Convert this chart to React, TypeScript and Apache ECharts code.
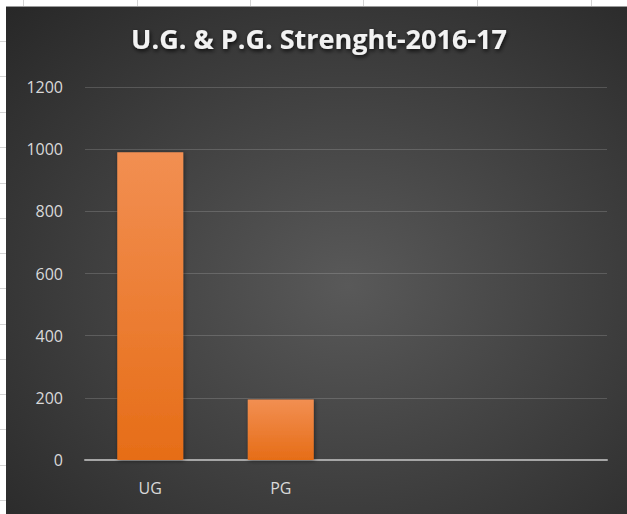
import React, { useEffect, useRef } from "react";
import * as echarts from "echarts";

const categories = ["UG", "PG", "", ""];
const strength = [990, 195, null, null];
const yTicks = { min: 0, max: 1200, interval: 200 };
const titleText = "U.G. & P.G. Strenght-2016-17";

const sheetCols = [23, 137, 250, 363, 477, 591];
const sheetRows = [41, 76, 112, 147, 183, 218, 253, 288, 324, 359, 394, 429, 465, 500];

export default function App() {
  const ref = useRef<HTMLDivElement>(null);
  useEffect(() => {
    if (!ref.current) return;
    const chart = echarts.init(ref.current, undefined, { renderer: "svg" });
    const graphic: any[] = [];
    sheetCols.forEach((x) =>
      graphic.push({ type: "line", silent: true, z: -10, shape: { x1: x + 0.5, y1: 0, x2: x + 0.5, y2: 6 }, style: { stroke: "#d4d4d4", lineWidth: 1 } })
    );
    sheetRows.forEach((y) =>
      graphic.push({ type: "line", silent: true, z: -10, shape: { x1: 0, y1: y + 0.5, x2: 6, y2: y + 0.5 }, style: { stroke: "#d4d4d4", lineWidth: 1 } })
    );
    graphic.push({
      type: "rect",
      silent: true,
      z: -10,
      shape: { x: 6, y: 6, width: 621, height: 508 },
      style: {
        fill: new echarts.graphic.RadialGradient(0.55, 0.55, 0.8, [
          { offset: 0, color: "#595959" },
          { offset: 1, color: "#262626" },
        ]),
      },
    });
    graphic.push({ type: "line", silent: true, z: -9, shape: { x1: 6, y1: 6.5, x2: 627, y2: 6.5 }, style: { stroke: "#9a9a9a", lineWidth: 1 } });

    chart.setOption({
      animation: false,
      backgroundColor: "#ffffff",
      graphic,
      title: {
        text: titleText,
        left: 314,
        textAlign: "center",
        top: 20,
        textStyle: {
          fontFamily: "Open Sans",
          fontWeight: "bold",
          fontSize: 27,
          color: "#f2f2f2",
          textShadowColor: "rgba(0,0,0,0.8)",
          textShadowBlur: 4,
          textShadowOffsetX: 1,
          textShadowOffsetY: 2,
        },
      },
      grid: { left: 85, right: 20, top: 87, bottom: 54 },
      xAxis: {
        type: "category",
        data: categories,
        axisLine: { show: true, lineStyle: { color: "#a6a6a6", width: 2 } },
        axisTick: { show: false },
        axisLabel: { color: "#d9d9d9", fontFamily: "Open Sans", fontSize: 16, margin: 20 },
        splitLine: { show: false },
      },
      yAxis: {
        type: "value",
        min: yTicks.min,
        max: yTicks.max,
        interval: yTicks.interval,
        axisLine: { show: false },
        axisTick: { show: false },
        axisLabel: {
          color: "#d9d9d9",
          fontFamily: "Open Sans",
          fontSize: 16,
          margin: 22,
          formatter: (v: number) => String(v),
        },
        splitLine: { lineStyle: { color: "rgba(255,255,255,0.16)", width: 1 } },
      },
      series: [
        {
          type: "bar",
          data: strength,
          barWidth: 66,
          itemStyle: {
            color: new echarts.graphic.LinearGradient(0, 0, 0, 1, [
              { offset: 0, color: "#f28f52" },
              { offset: 1, color: "#e66d17" },
            ]),
            shadowColor: "rgba(0,0,0,0.45)",
            shadowBlur: 4,
            shadowOffsetX: 1,
            shadowOffsetY: 1,
          },
        },
      ],
    });
    return () => chart.dispose();
  }, []);
  return (
    <div
      ref={ref}
      style={{ position: "absolute", left: 0, top: 0, width: 627, height: 514 }}
    />
  );
}
